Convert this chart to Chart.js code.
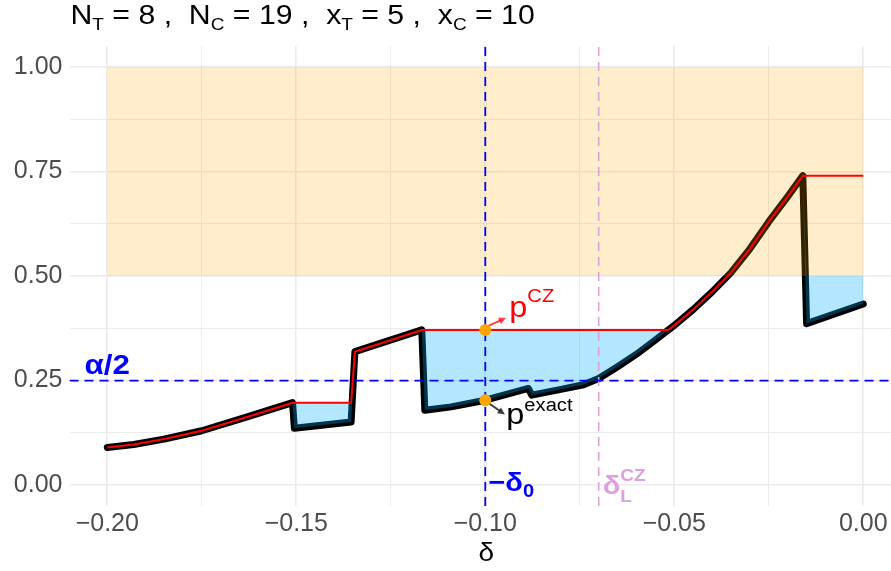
<!DOCTYPE html>
<html>
<head>
<meta charset="utf-8">
<script src="https://cdn.jsdelivr.net/npm/chart.js@4.4.1/dist/chart.umd.min.js"></script>
<style>
  html, body { margin: 0; padding: 0; background: #fff; overflow: hidden; }
  #wrap { width: 891px; height: 571px; }
</style>
</head>
<body>
<div id="wrap"><canvas id="pvalChart" width="891" height="571"></canvas></div>
<script>
// Values
const delta = [-0.200, -0.193, -0.185, -0.175, -0.163, -0.151, -0.1505, -0.1355, -0.1345, -0.1168,
               -0.1160, -0.1090, -0.1000, -0.0886, -0.0877, -0.0800, -0.0740, -0.0700, -0.0650, -0.0600,
               -0.0550, -0.0516, -0.0500, -0.0450, -0.0400, -0.0350, -0.0300, -0.0250, -0.0200, -0.0160,
               -0.0150, 0.0000];
const pExact = [0.090, 0.097, 0.110, 0.130, 0.163, 0.197, 0.136, 0.151, 0.319, 0.371,
                0.179, 0.187, 0.203, 0.231, 0.215, 0.229, 0.240, 0.255, 0.283, 0.313,
                0.347, 0.371, 0.382, 0.420, 0.462, 0.508, 0.565, 0.630, 0.690, 0.740,
                0.386, 0.433];
const pCZ = [0.090, 0.097, 0.110, 0.130, 0.163, 0.197, 0.197, 0.197, 0.319, 0.371,
             0.371, 0.371, 0.371, 0.371, 0.371, 0.371, 0.371, 0.371, 0.371, 0.371,
             0.371, 0.371, 0.382, 0.420, 0.462, 0.508, 0.565, 0.630, 0.690, 0.740,
             0.740, 0.740];
// top of the blue band: p^CZ, but never above the 0.5 line
const shadeTop = [0.090, 0.097, 0.110, 0.130, 0.163, 0.197, 0.197, 0.197, 0.319, 0.371,
                  0.371, 0.371, 0.371, 0.371, 0.371, 0.371, 0.371, 0.371, 0.371, 0.371,
                  0.371, 0.371, 0.382, 0.420, 0.462, 0.508, 0.565, 0.630, 0.690, 0.740,
                  0.500, 0.500];

const xTicks = [-0.2, -0.175, -0.15, -0.125, -0.1, -0.075, -0.05, -0.025, 0];
const xTickLabels = ['\u22120.20', '', '\u22120.15', '', '\u22120.10', '', '\u22120.05', '', '0.00'];
const yTicks = [0, 0.125, 0.25, 0.375, 0.5, 0.625, 0.75, 0.875, 1];
const yTickLabels = ['0.00', '', '0.25', '', '0.50', '', '0.75', '', '1.00'];

const alphaHalf = 0.25;
const delta0 = -0.1;
const deltaLCZ = -0.07;
const pointCZ = 0.371;
const pointExact = 0.203;
const acceptLow = 0.5, acceptHigh = 1.0;

const X_MIN = -0.21, X_MAX = 0.00733, Y_MIN = -0.05, Y_MAX = 1.05;
const FONT = '"Liberation Sans", Arial, Helvetica, sans-serif';
const SX = 1.12; // the reference text is a little wide

const toXY = ys => delta.map((d, i) => ({ x: d, y: ys[i] }));

// draw a run of text pieces (sub/superscripts), stretched a bit horizontally
function richText(ctx, x, y, parts, align) {
    let total = 0;
    parts.forEach(p => {
        ctx.font = p.font;
        p.w = ctx.measureText(p.text).width;
        if (!p.stay) total += p.w;
    });
    ctx.save();
    ctx.translate(x, y);
    ctx.scale(SX, 1);
    ctx.textBaseline = 'alphabetic';
    ctx.textAlign = 'left';
    let cx = align === 'center' ? -total / 2 : 0;
    parts.forEach(p => {
        ctx.font = p.font;
        ctx.fillStyle = p.color;
        ctx.fillText(p.text, cx, p.dy || 0);
        if (!p.stay) cx += p.w;
    });
    ctx.restore();
}

function arrow(ctx, x0, y0, x1, y1, color) {
    const ang = Math.atan2(y1 - y0, x1 - x0);
    const L = 8, W = Math.PI / 7;
    ctx.save();
    ctx.strokeStyle = color;
    ctx.fillStyle = color;
    ctx.lineWidth = 2;
    ctx.beginPath();
    ctx.moveTo(x0, y0);
    ctx.lineTo(x1 - L * 0.7 * Math.cos(ang), y1 - L * 0.7 * Math.sin(ang));
    ctx.stroke();
    ctx.beginPath();
    ctx.moveTo(x1, y1);
    ctx.lineTo(x1 - L * Math.cos(ang - W), y1 - L * Math.sin(ang - W));
    ctx.lineTo(x1 - L * Math.cos(ang + W), y1 - L * Math.sin(ang + W));
    ctx.closePath();
    ctx.fill();
    ctx.restore();
}

const annotate = {
    id: 'annotate',
    beforeDatasetsDraw(chart) {
        const { ctx, scales: { x, y } } = chart;
        arrow(ctx, x.getPixelForValue(-0.0996), y.getPixelForValue(0.379),
              x.getPixelForValue(-0.0945), y.getPixelForValue(0.400), 'rgba(255,0,0,0.75)');
        arrow(ctx, x.getPixelForValue(-0.0996), y.getPixelForValue(0.199),
              x.getPixelForValue(-0.0948), y.getPixelForValue(0.169), 'rgba(0,0,0,0.75)');
    },
    afterDatasetsDraw(chart) {
        const { ctx, scales: { x, y } } = chart;
        const blue = '#0000ff', plum = '#dda0dd';

        richText(ctx, x.getPixelForValue(-0.2), y.getPixelForValue(alphaHalf) - 7, [
            { text: '\u03b1/2', font: `bold 28px ${FONT}`, color: blue }
        ], 'center');

        richText(ctx, x.getPixelForValue(delta0) + 3, y.getPixelForValue(0) + 6, [
            { text: '\u2212', font: `bold 26px ${FONT}`, color: blue },
            { text: '\u03b4', font: `bold 26px ${FONT}`, color: blue },
            { text: '0', font: `bold 18px ${FONT}`, color: blue, dy: 6 }
        ]);

        richText(ctx, x.getPixelForValue(deltaLCZ) + 4, y.getPixelForValue(0) + 9, [
            { text: '\u03b4', font: `bold 26px ${FONT}`, color: plum },
            { text: 'L', font: `bold 17px ${FONT}`, color: plum, dy: 8, stay: true },
            { text: 'CZ', font: `bold 17px ${FONT}`, color: plum, dy: -13 }
        ]);

        richText(ctx, x.getPixelForValue(delta0) + 24, y.getPixelForValue(pointCZ) - 13, [
            { text: 'p', font: `29px ${FONT}`, color: '#ff0000' },
            { text: 'CZ', font: `18px ${FONT}`, color: '#ff0000', dy: -15 }
        ]);

        richText(ctx, x.getPixelForValue(delta0) + 21, y.getPixelForValue(pointExact) + 24, [
            { text: 'p', font: `29px ${FONT}`, color: '#000000' },
            { text: 'exact', font: `18px ${FONT}`, color: '#000000', dy: -13 }
        ]);
    },
    afterDraw(chart) {
        const { ctx, chartArea } = chart;
        const big = `27px ${FONT}`, sub = `17px ${FONT}`;
        richText(ctx, chartArea.left + 1, 24, [
            { text: 'N', font: big, color: '#000' },
            { text: 'T', font: sub, color: '#000', dy: 6 },
            { text: ' = 8 ,  N', font: big, color: '#000' },
            { text: 'C', font: sub, color: '#000', dy: 6 },
            { text: ' = 19 ,  x', font: big, color: '#000' },
            { text: 'T', font: sub, color: '#000', dy: 6 },
            { text: ' = 5 ,  x', font: big, color: '#000' },
            { text: 'C', font: sub, color: '#000', dy: 6 },
            { text: ' = 10', font: big, color: '#000' }
        ]);
        // x axis title, centred on the panel
        const xs = chart.scales.x;
        richText(ctx, xs.getPixelForValue(-0.1) + 1, 561, [
            { text: '\u03b4', font: `25px ${FONT}`, color: '#000' }
        ], 'center');
    }
};

const ctx = document.getElementById('pvalChart');
new Chart(ctx, {
    type: 'line',
    data: {
        datasets: [
            {
                label: 'accept region',
                data: [{ x: -0.2, y: acceptHigh }, { x: 0, y: acceptHigh }],
                fill: { value: acceptLow },
                backgroundColor: 'rgba(255,165,0,0.2)',
                borderColor: 'rgba(0,0,0,0)',
                borderWidth: 0,
                pointRadius: 0,
                order: 3
            },
            {
                label: 'shade',
                data: toXY(shadeTop),
                fill: 2,
                backgroundColor: 'rgba(0,175,255,0.3)',
                borderColor: 'rgba(0,0,0,0)',
                borderWidth: 0,
                pointRadius: 0,
                order: 4
            },
            {
                label: 'p exact',
                data: toXY(pExact),
                borderColor: '#000000',
                borderWidth: 7,
                borderJoinStyle: 'round',
                borderCapStyle: 'round',
                pointRadius: 0,
                fill: false,
                order: 6
            },
            {
                label: 'p CZ',
                data: toXY(pCZ),
                borderColor: '#ff0000',
                borderWidth: 2,
                pointRadius: 0,
                fill: false,
                order: 1
            },
            {
                label: 'alpha/2',
                data: [{ x: X_MIN, y: alphaHalf }, { x: X_MAX, y: alphaHalf }],
                borderColor: '#0000ff',
                borderWidth: 1.8,
                borderDash: [9, 6],
                pointRadius: 0,
                fill: false,
                order: 2
            },
            {
                label: 'delta0',
                data: [{ x: delta0, y: Y_MIN }, { x: delta0, y: Y_MAX }],
                borderColor: '#0000ff',
                borderWidth: 1.8,
                borderDash: [9, 6],
                pointRadius: 0,
                fill: false,
                order: 2
            },
            {
                label: 'delta L CZ',
                data: [{ x: deltaLCZ, y: Y_MIN }, { x: deltaLCZ, y: Y_MAX }],
                borderColor: '#dda0dd',
                borderWidth: 1.6,
                borderDash: [9, 6],
                pointRadius: 0,
                fill: false,
                order: 2
            },
            {
                type: 'scatter',
                label: 'points',
                data: [{ x: delta0, y: pointCZ }, { x: delta0, y: pointExact }],
                backgroundColor: '#ffa500',
                borderWidth: 0,
                pointRadius: 6,
                order: 0
            }
        ]
    },
    options: {
        responsive: false,
        devicePixelRatio: 1,
        animation: false,
        layout: { autoPadding: false, padding: { top: 46, left: 0, right: 0, bottom: 0 } },
        plugins: { legend: { display: false }, tooltip: { enabled: false }, title: { display: false } },
        scales: {
            x: {
                type: 'linear',
                min: X_MIN,
                max: X_MAX,
                afterBuildTicks: s => { s.ticks = xTicks.map(v => ({ value: v })); },
                afterFit: s => { s.height = 65; s.paddingLeft = 0; s.paddingRight = 0; },
                ticks: {
                    autoSkip: false,
                    maxRotation: 0,
                    padding: 3,
                    color: '#4d4d4d',
                    font: { family: FONT, size: 25 },
                    callback: (v, i) => xTickLabels[i]
                },
                grid: { color: '#ebebeb', lineWidth: c => (c.index % 2 ? 1 : 1.6), drawTicks: false },
                border: { display: false }
            },
            y: {
                type: 'linear',
                min: Y_MIN,
                max: Y_MAX,
                afterBuildTicks: s => { s.ticks = yTicks.map(v => ({ value: v })); },
                afterFit: s => { s.width = 69.5; s.paddingTop = 0; s.paddingBottom = 0; },
                ticks: {
                    autoSkip: false,
                    padding: 7,
                    color: '#4d4d4d',
                    font: { family: FONT, size: 25 },
                    callback: (v, i) => yTickLabels[i]
                },
                grid: { color: '#ebebeb', lineWidth: c => (c.index % 2 ? 1 : 1.6), drawTicks: false },
                border: { display: false }
            }
        }
    },
    plugins: [annotate]
});
</script>
</body>
</html>
